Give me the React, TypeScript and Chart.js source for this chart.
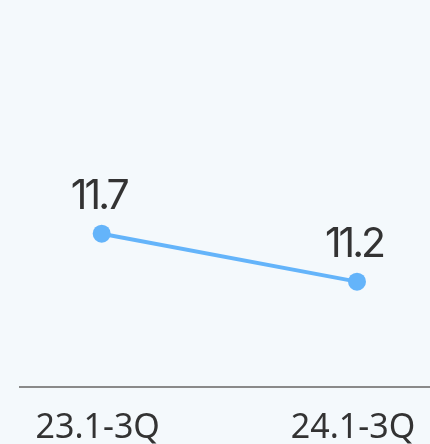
import React, { useEffect, useRef } from "react";
import { Chart, registerables } from "chart.js";

Chart.register(...registerables);

const categories = ["23.1-3Q", "24.1-3Q"];
const values = [11.7, 11.2];
const valueLabels = ["11.7", "11.2"];

const LABEL_FONT = "Inter, 'Noto Sans', sans-serif";
const TICK_FONT = "'Noto Sans', sans-serif";

const labelPlugin = {
  id: "valueLabels",
  afterDatasetsDraw(chart: any) {
    const ctx = chart.ctx;
    const meta = chart.getDatasetMeta(0);
    ctx.save();
    ctx.font = `400 41px ${LABEL_FONT}`;
    try {
      ctx.letterSpacing = "-3px";
    } catch (e) {}
    ctx.fillStyle = "#333333";
    ctx.textAlign = "center";
    ctx.textBaseline = "alphabetic";
    meta.data.forEach((pt: any, i: number) => {
      ctx.fillText(valueLabels[i], pt.x - 3, pt.y - 25);
    });
    ctx.restore();
  },
};

export default function App() {
  const ref = useRef<HTMLCanvasElement | null>(null);
  useEffect(() => {
    if (!ref.current) return;
    const chart = new Chart(ref.current, {
      type: "line",
      data: {
        datasets: [
          {
            data: values.map((v, i) => ({ x: i, y: v })),
            borderColor: "#64b4fa",
            backgroundColor: "#64b4fa",
            pointBackgroundColor: "#64b4fa",
            pointBorderWidth: 0,
            pointRadius: 9,
            borderWidth: 4,
            tension: 0,
          },
        ],
      },
      options: {
        animation: false,
        responsive: false,
        layout: { autoPadding: false, padding: { left: 20, right: 0, top: 0, bottom: 0 } },
        plugins: { legend: { display: false }, tooltip: { enabled: false } },
        scales: {
          x: {
            type: "linear",
            min: -0.32,
            max: 1.286,
            afterBuildTicks: (axis: any) => {
              axis.ticks = categories.map((_, i) => ({ value: i }));
            },
            afterFit: (axis: any) => {
              axis.paddingLeft = 0;
              axis.paddingRight = 0;
              axis.height = 57;
            },
            ticks: {
              autoSkip: false,
              maxRotation: 0,
              padding: 21,
              labelOffset: -4,
              color: "#333333",
              font: { family: TICK_FONT, size: 34 },
              callback: (v: any) => categories[Number(v)] ?? "",
            },
            grid: { display: false, drawTicks: false },
            border: { display: true, color: "#8a8a8a", width: 2 },
          },
          y: {
            display: false,
            min: 10.1,
            max: 14.14,
          },
        },
      },
      plugins: [labelPlugin],
    });
    return () => chart.destroy();
  }, []);
  return (
    <div style={{ position: "fixed", left: 0, top: 0, width: 430, height: 444, background: "#f4f9fc" }}>
      <canvas ref={ref} width={430} height={444} style={{ display: "block" }} />
    </div>
  );
}
